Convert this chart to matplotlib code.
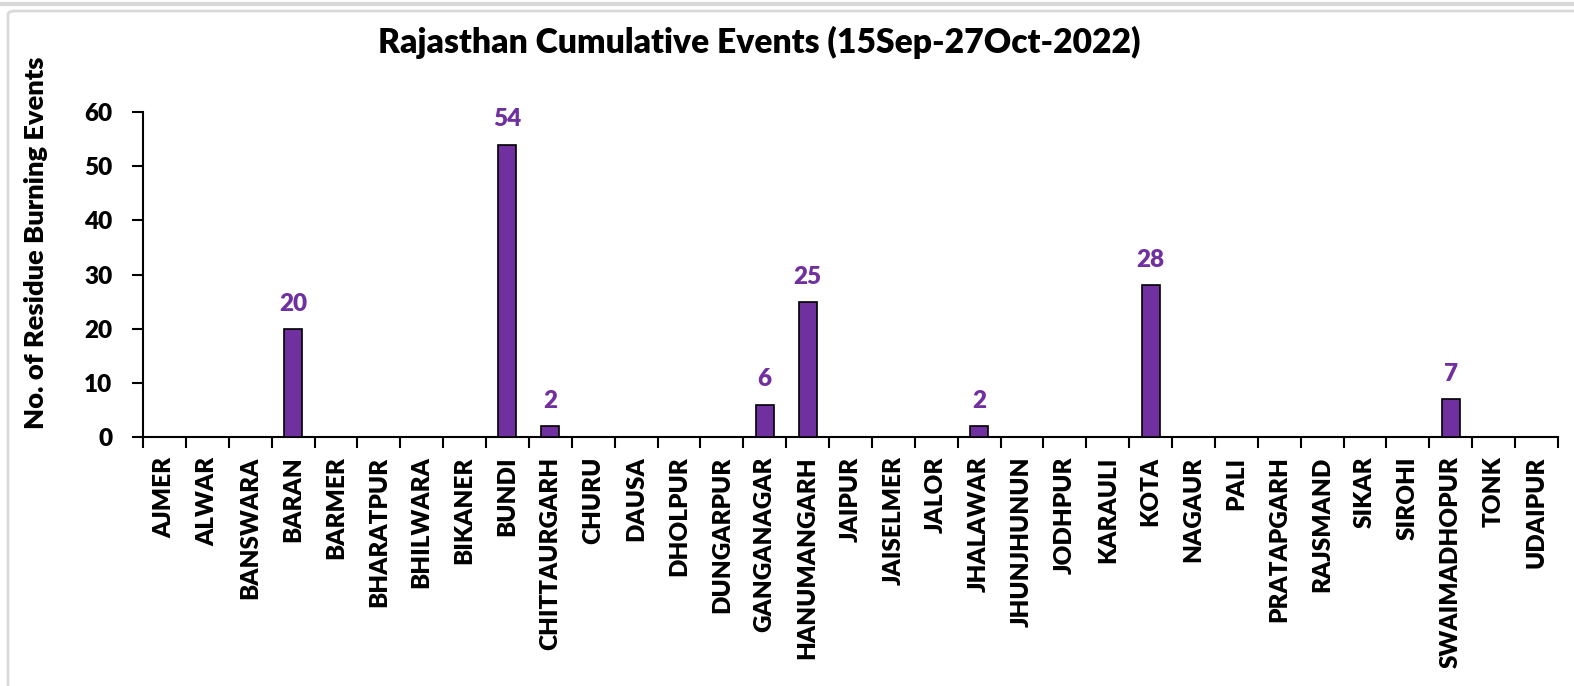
import matplotlib.pyplot as plt
from matplotlib.patches import FancyBboxPatch
from matplotlib.lines import Line2D

plt.rcParams['font.family'] = ['Lato', 'DejaVu Sans']
plt.rcParams['font.weight'] = 'bold'

districts = ["AJMER", "ALWAR", "BANSWARA", "BARAN", "BARMER", "BHARATPUR", "BHILWARA",
             "BIKANER", "BUNDI", "CHITTAURGARH", "CHURU", "DAUSA", "DHOLPUR", "DUNGARPUR",
             "GANGANAGAR", "HANUMANGARH", "JAIPUR", "JAISELMER", "JALOR", "JHALAWAR",
             "JHUNJHUNUN", "JODHPUR", "KARAULI", "KOTA", "NAGAUR", "PALI", "PRATAPGARH",
             "RAJSMAND", "SIKAR", "SIROHI", "SWAIMADHOPUR", "TONK", "UDAIPUR"]
events = [0, 0, 0, 20, 0, 0, 0, 0, 54, 2, 0, 0, 0, 0, 6, 25, 0, 0, 0, 2,
          0, 0, 0, 28, 0, 0, 0, 0, 0, 0, 7, 0, 0]
y_ticks = [0, 10, 20, 30, 40, 50, 60]

purple = "#7030A0"

fig = plt.figure(figsize=(15.74, 6.86), dpi=100)
ax = fig.add_axes([143 / 1574, 1 - 437 / 686, (1558 - 143) / 1574, (437 - 112) / 686])

x = list(range(len(districts)))
ax.bar(x, events, width=0.42, color=purple, edgecolor="black", linewidth=1.2, zorder=3)
for xi, v in zip(x, events):
    if v > 0:
        ax.annotate(str(v), (xi, v), xytext=(0, 13), textcoords="offset points",
                    ha="center", va="baseline", color=purple,
                    fontsize=17.5, fontweight="heavy")

ax.set_xlim(-0.5, len(districts) - 0.5)
ax.set_ylim(0, 60)
ax.set_yticks(y_ticks)
ax.set_yticklabels([str(t) for t in y_ticks], fontsize=17.5, fontweight="heavy")
ax.set_xticks([i - 0.5 for i in range(len(districts) + 1)])
ax.set_xticklabels([])
ax.set_xticks(x, minor=True)
ax.set_xticklabels(districts, minor=True, rotation=90, fontsize=17.5, fontweight="heavy")
ax.tick_params(axis="x", which="minor", length=0, pad=14)
ax.tick_params(axis="x", which="major", length=8, width=1.5, direction="out")
ax.tick_params(axis="y", length=8, width=1.5, direction="out", pad=14)

for s in ["top", "right"]:
    ax.spines[s].set_visible(False)
ax.spines["left"].set_linewidth(1.5)
ax.spines["bottom"].set_linewidth(1.5)

fig.text(759 / 1574, 1 - 42 / 686, "Rajasthan Cumulative Events (15Sep-27Oct-2022)",
         ha="center", va="center", fontsize=24.2, fontweight="heavy")
fig.text(36 / 1574, 1 - 243 / 686, "No. of Residue Burning Events", rotation=90,
         ha="center", va="center", fontsize=19.6, fontweight="heavy")

# outer frame like the spreadsheet chart box
frame = FancyBboxPatch((8 / 1574, -0.05), 1.1, 1 - 11 / 686 + 0.05,
                       boxstyle="round,pad=0,rounding_size=0.005",
                       transform=fig.transFigure, facecolor="none",
                       edgecolor="#d9d9d9", linewidth=2)
fig.patches.append(frame)
fig.lines.append(Line2D([0, 1], [1 - 4 / 686, 1 - 4 / 686], transform=fig.transFigure,
                        color="#d9d9d9", linewidth=3))

fig.savefig("out.png", dpi=100)
